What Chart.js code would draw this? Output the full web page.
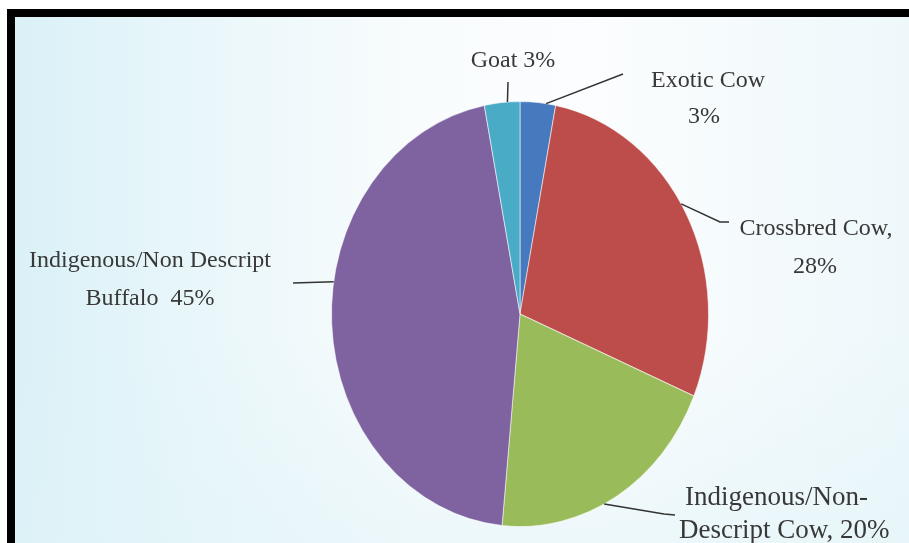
<!DOCTYPE html>
<html lang="en">
<head>
  <meta charset="UTF-8">
  <title>Milk Production by Species</title>
  <script src="https://cdn.jsdelivr.net/npm/chart.js"></script>
  <style>
    html, body {
      margin: 0;
      padding: 0;
      width: 909px;
      height: 543px;
      overflow: hidden;
      background: #ffffff;
    }
    .frame {
      position: absolute;
      left: 7px;
      top: 9px;
      right: 0;
      bottom: 0;
      border-top: 8px solid #000;
      border-left: 8px solid #000;
      background:
        linear-gradient(to bottom, rgba(255,255,255,0) 60%, rgba(224,243,248,0.5) 100%),
        linear-gradient(to right, #daf1f7 0%, #eaf7fa 22%, #f9fcfd 45%, #fbfdfe 65%, #eef8fb 100%);
    }
    canvas {
      position: absolute;
      left: 0;
      top: 0;
    }
  </style>
</head>
<body>
  <div class="frame"></div>
  <canvas id="milkChart" width="909" height="543"></canvas>

  <script>
    // share of milk production, clockwise from 12 o'clock
    const categories = ['Exotic Cow', 'Crossbred Cow', 'Indigenous/Non-Descript Cow', 'Indigenous/Non Descript Buffalo', 'Goat'];
    const shares = [3, 28, 20, 45, 3];
    const sliceColors = ['#4679bd', '#bc4d4a', '#9abb59', '#7f63a1', '#4aabc6'];

    // label lines as printed next to each slice
    const labelLines = [
      ['Exotic Cow', '3%'],
      ['Crossbred Cow,', '28%'],
      ['Indigenous/Non-', 'Descript Cow, 20%'],
      ['Indigenous/Non Descript', 'Buffalo  45%'],
      ['Goat 3%']
    ];

    // the pie is drawn a bit taller than wide
    const stretchY = 1.127;

    // where each label sits, and where its leader line leaves the slice
    const labelLayout = [
      { frac: 0.73, path: [[623, 74]], lines: [[708, 87], [704, 123]], align: 'center', size: 24 },
      { frac: 0.47, path: [[720, 222], [729, 222]], lines: [[816, 235], [815, 273]], align: 'center', size: 24 },
      { frac: 0.56, path: [[664, 514], [675, 515]], lines: [[685, 505], [679, 538]], align: 'left', size: 27 },
      { frac: 0.57, path: [[293, 283]], lines: [[150, 267], [150, 305]], align: 'center', size: 24 },
      { frac: 0.65, path: [[508, 82]], lines: [[513, 67]], align: 'center', size: 24 }
    ];

    function edgePoint(arc, frac) {
      const a = arc.startAngle + (arc.endAngle - arc.startAngle) * frac;
      return [arc.x + arc.outerRadius * Math.cos(a), arc.y + arc.outerRadius * Math.sin(a) * stretchY];
    }

    const ellipsePlugin = {
      id: 'ellipse',
      beforeDatasetsDraw(chart) {
        const arc = chart.getDatasetMeta(0).data[0];
        const ctx = chart.ctx;
        ctx.save();
        ctx.translate(arc.x, arc.y);
        ctx.scale(1, stretchY);
        ctx.translate(-arc.x, -arc.y);
      },
      afterDatasetsDraw(chart) {
        chart.ctx.restore();
      }
    };

    const labelPlugin = {
      id: 'sliceLabels',
      afterDraw(chart) {
        const ctx = chart.ctx;
        const arcs = chart.getDatasetMeta(0).data;
        ctx.save();
        ctx.strokeStyle = '#333';
        ctx.lineWidth = 1.5;
        ctx.fillStyle = '#383838';
        ctx.textBaseline = 'alphabetic';
        labelLayout.forEach((lay, i) => {
          const start = edgePoint(arcs[i], lay.frac);
          ctx.beginPath();
          ctx.moveTo(start[0], start[1]);
          lay.path.forEach(p => ctx.lineTo(p[0], p[1]));
          ctx.stroke();
          ctx.font = lay.size + 'px "Liberation Serif", serif';
          ctx.textAlign = lay.align;
          labelLines[i].forEach((txt, j) => {
            ctx.fillText(txt, lay.lines[j][0], lay.lines[j][1]);
          });
        });
        ctx.restore();
      }
    };

    const ctx = document.getElementById('milkChart').getContext('2d');
    new Chart(ctx, {
      type: 'pie',
      data: {
        labels: categories,
        datasets: [{
          data: shares,
          backgroundColor: sliceColors,
          borderColor: 'rgba(255,255,255,0.55)',
          borderWidth: 1
        }]
      },
      options: {
        responsive: false,
        animation: false,
        layout: {
          padding: { left: 331, right: 200, top: 125, bottom: 40 }
        },
        plugins: {
          legend: { display: false },
          tooltip: { enabled: false }
        }
      },
      plugins: [ellipsePlugin, labelPlugin]
    });
  </script>
</body>
</html>
